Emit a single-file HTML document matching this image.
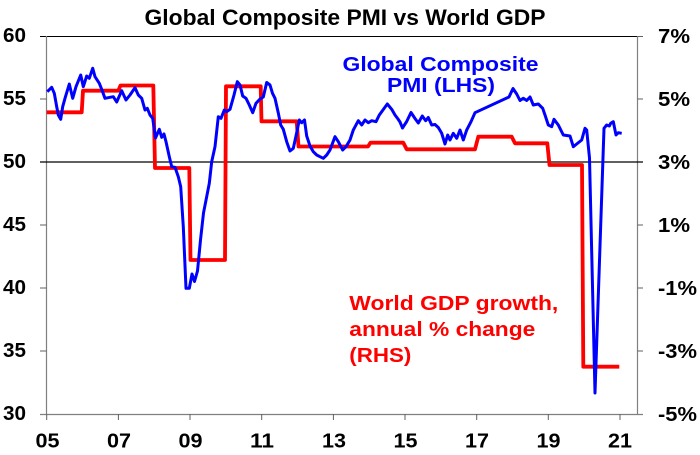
<!DOCTYPE html>
<html>
<head>
<meta charset="utf-8">
<style>
html,body{margin:0;padding:0;background:#fff;}
svg{display:block;}
text{font-family:"Liberation Sans",Arial,sans-serif;font-weight:bold;}
</style>
</head>
<body>
<svg width="700" height="455" viewBox="0 0 700 455" xmlns="http://www.w3.org/2000/svg">
<rect width="700" height="455" fill="#fff"/>
<!-- title -->
<text x="345" y="25" font-size="22" text-anchor="middle" textLength="401" lengthAdjust="spacingAndGlyphs" fill="#000">Global Composite PMI vs World GDP</text>

<!-- axes -->
<line x1="40" y1="36.5" x2="637" y2="36.5" stroke="#000" stroke-width="1"/>
<line x1="46.5" y1="36" x2="46.5" y2="414" stroke="#808080" stroke-width="1.2"/>
<line x1="637.5" y1="36" x2="637.5" y2="414" stroke="#808080" stroke-width="1.2"/>
<line x1="40" y1="414.5" x2="643" y2="414.5" stroke="#808080" stroke-width="1.2"/>
<line x1="40" y1="162" x2="643" y2="162" stroke="#000" stroke-width="1.2"/>
<g stroke="#606060" stroke-width="1">
<line x1="40" y1="99" x2="46.5" y2="99"/>
<line x1="40" y1="225" x2="46.5" y2="225"/>
<line x1="40" y1="288" x2="46.5" y2="288"/>
<line x1="40" y1="351" x2="46.5" y2="351"/>
<line x1="637.5" y1="36.5" x2="643" y2="36.5"/>
<line x1="637.5" y1="99" x2="643" y2="99"/>
<line x1="637.5" y1="225" x2="643" y2="225"/>
<line x1="637.5" y1="288" x2="643" y2="288"/>
<line x1="637.5" y1="351" x2="643" y2="351"/>
<line x1="46.7" y1="414" x2="46.7" y2="420"/>
<line x1="118.4" y1="414" x2="118.4" y2="420"/>
<line x1="190" y1="414" x2="190" y2="420"/>
<line x1="261.7" y1="414" x2="261.7" y2="420"/>
<line x1="333.4" y1="414" x2="333.4" y2="420"/>
<line x1="405" y1="414" x2="405" y2="420"/>
<line x1="476.7" y1="414" x2="476.7" y2="420"/>
<line x1="548.3" y1="414" x2="548.3" y2="420"/>
<line x1="620" y1="414" x2="620" y2="420"/>
</g>

<!-- left labels -->
<g font-size="20" text-anchor="end" fill="#000">
<text x="26" y="42" textLength="23" lengthAdjust="spacingAndGlyphs">60</text>
<text x="26" y="105" textLength="23" lengthAdjust="spacingAndGlyphs">55</text>
<text x="26" y="168" textLength="23" lengthAdjust="spacingAndGlyphs">50</text>
<text x="26" y="231" textLength="23" lengthAdjust="spacingAndGlyphs">45</text>
<text x="26" y="294" textLength="23" lengthAdjust="spacingAndGlyphs">40</text>
<text x="26" y="357" textLength="23" lengthAdjust="spacingAndGlyphs">35</text>
<text x="26" y="420" textLength="23" lengthAdjust="spacingAndGlyphs">30</text>
</g>
<!-- right labels -->
<g font-size="20" fill="#000">
<text x="658" y="43" textLength="32" lengthAdjust="spacingAndGlyphs">7%</text>
<text x="658" y="106" textLength="32" lengthAdjust="spacingAndGlyphs">5%</text>
<text x="658" y="169" textLength="32" lengthAdjust="spacingAndGlyphs">3%</text>
<text x="658" y="232" textLength="32" lengthAdjust="spacingAndGlyphs">1%</text>
<text x="658" y="295" textLength="39" lengthAdjust="spacingAndGlyphs">-1%</text>
<text x="658" y="358" textLength="39" lengthAdjust="spacingAndGlyphs">-3%</text>
<text x="658" y="421" textLength="39" lengthAdjust="spacingAndGlyphs">-5%</text>
</g>
<!-- x labels -->
<g font-size="20" text-anchor="middle" fill="#000">
<text x="47.5" y="447.5" textLength="24" lengthAdjust="spacingAndGlyphs">05</text>
<text x="119" y="447.5" textLength="24" lengthAdjust="spacingAndGlyphs">07</text>
<text x="190.5" y="447.5" textLength="24" lengthAdjust="spacingAndGlyphs">09</text>
<text x="262" y="447.5" textLength="24" lengthAdjust="spacingAndGlyphs">11</text>
<text x="334" y="447.5" textLength="24" lengthAdjust="spacingAndGlyphs">13</text>
<text x="405.5" y="447.5" textLength="24" lengthAdjust="spacingAndGlyphs">15</text>
<text x="477" y="447.5" textLength="24" lengthAdjust="spacingAndGlyphs">17</text>
<text x="548.5" y="447.5" textLength="24" lengthAdjust="spacingAndGlyphs">19</text>
<text x="620" y="447.5" textLength="24" lengthAdjust="spacingAndGlyphs">21</text>
</g>

<!-- red GDP step series -->
<polyline fill="none" stroke="#ff0000" stroke-width="3.8" stroke-linejoin="round" points="46.7,112.3 81.7,112.3 83,90.7 118.3,90.7 120.5,85.5 153.3,85.5 155,168 189.3,168 190.5,260 225,260 226,86.3 260.7,86.3 261.5,121.3 296.7,121.3 298.5,146.5 368,146.5 370.5,142.7 403.3,142.7 406.7,149.3 475,149.3 478.3,136.7 511.7,136.7 515,143.3 547.3,143.3 549.5,165 582,165 583.3,366.7 619.3,366.7"/>

<!-- blue PMI series -->
<polyline fill="none" stroke="#0000ff" stroke-width="3" stroke-linejoin="round" points="47.3,91.7 51.7,87.3 54.3,93.3 56.7,106.7 58.3,115 60.7,119.3 62.7,106.7 65,98.3 69.3,84 72.7,98.3 76,86.7 80.7,75 83.3,86.7 86.7,76 89.3,78.3 92.7,68.3 95,76.7 99.3,83.3 101.7,89.3 105,98.3 110,97.3 113.3,96.7 116.7,102 121.7,90.7 126,100 130,95 135,87.7 138.3,95 141.7,98.3 145,110 147.3,108.3 150,115 152.7,118.3 155.5,138 159.3,129.3 161.7,137.3 164,134 166,141.7 169.3,156.7 171.7,166.7 175,167.3 178.3,176.7 180.7,186.7 183.3,226.7 186,288.3 189.3,288.3 192,274 194.5,281.5 197.5,271 200.5,240 203.5,213 209.3,183.3 211.7,161.7 215,146.7 218.3,116.7 221,118.3 224.3,110 226.7,111.7 230,109.3 234,95 237.3,81.7 240,85 242.7,96 246,98.3 249.3,105 252.7,112.7 256,103.3 260,99 263.3,97 266.7,82.5 270,85 272.5,93.3 275,98.3 278.3,113 280.7,125 283.3,129.3 286.7,141.7 290,151 293.3,148.3 296,136 299.3,120 301.7,122.7 304.5,120 306.7,136 310,146 313.3,151.7 316.7,155 320,156.7 323.3,158.3 326.7,155 330,150 335,136.7 338.3,141.7 342.7,150 346,146.7 350,140 353.3,130 358.3,120.7 361.7,125 365,120 368.3,122.7 371.7,120.7 376,121.7 379.3,115 383.3,109.5 387.3,104 391.7,109.3 395,115 398,119 400,122 402.5,128 406.7,121.5 411,112.5 415,118.5 418.3,123 422.3,116 425.7,120.7 428.3,117.5 431.7,125 435,124.5 438.3,127.5 441.7,133.3 445,144 447.7,135 450,140 453.3,133.3 456.7,138.3 460,130 463.3,140 466.7,130 471,121.7 475,112.7 509,97 513,88.5 516.7,94 520,100.5 523.3,98.3 526.7,100.5 530,97 533.3,105 538.3,104 542.7,108.3 545,115 548.3,125 551.7,126.7 554,119.3 558.3,125 563.3,135 570,136 573.3,146.7 576.7,144 581.7,140 585,128.3 586.7,130 589.5,158 595,393 604,128.3 606.7,125 609.3,126 610.7,123.3 613.3,121.7 616,135 618.3,132.7 621.7,133.3"/>

<!-- annotations -->
<g font-size="20" fill="#0000ff" text-anchor="middle">
<text x="440.5" y="71" textLength="196" lengthAdjust="spacingAndGlyphs">Global Composite</text>
<text x="441" y="92" textLength="108" lengthAdjust="spacingAndGlyphs">PMI (LHS)</text>
</g>
<g font-size="20" fill="#ff0000">
<text x="349.3" y="310" textLength="209" lengthAdjust="spacingAndGlyphs">World GDP growth,</text>
<text x="349.3" y="336" textLength="186" lengthAdjust="spacingAndGlyphs">annual % change</text>
<text x="349.3" y="362" textLength="62" lengthAdjust="spacingAndGlyphs">(RHS)</text>
</g>
</svg>
</body>
</html>
